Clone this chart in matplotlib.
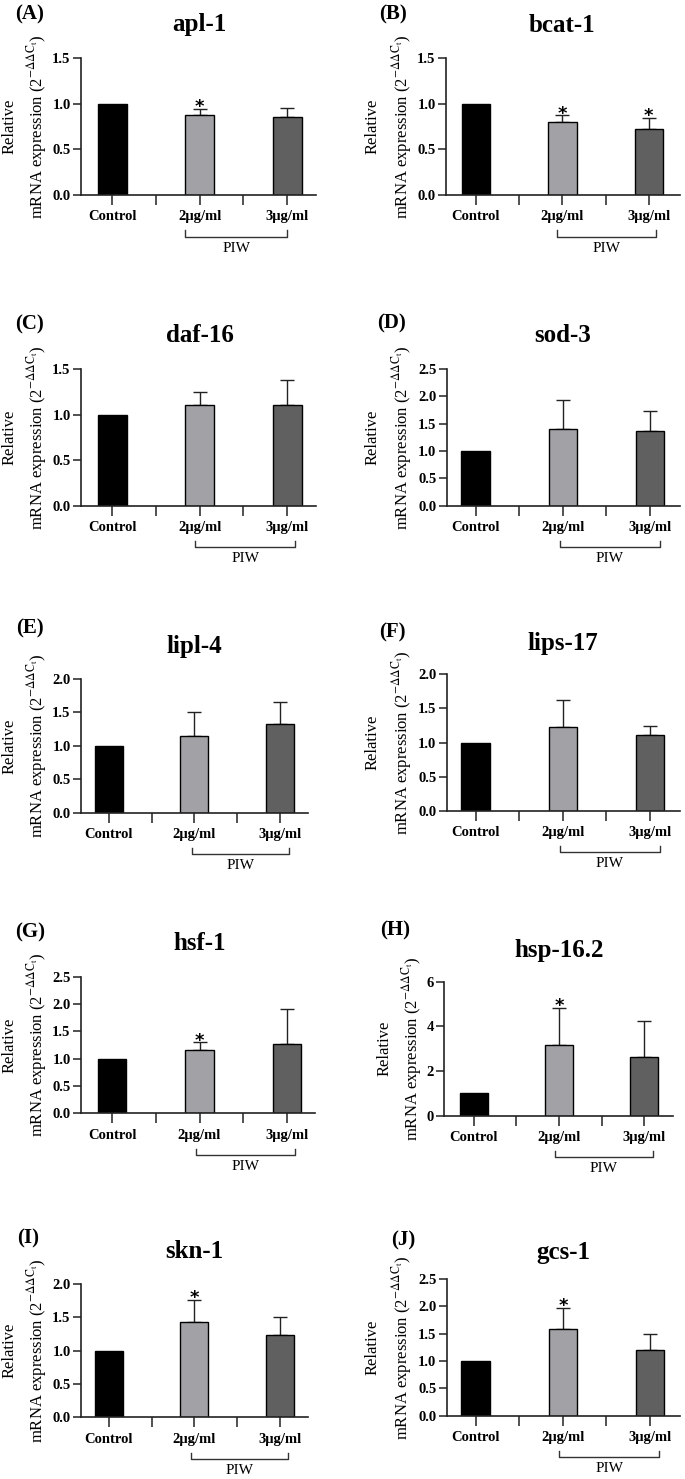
import matplotlib
matplotlib.use("Agg")
import matplotlib.pyplot as plt
import matplotlib.transforms as mtransforms

plt.rcParams['font.family'] = ['Liberation Serif', 'DejaVu Serif']
plt.rcParams['mathtext.fontset'] = 'stix'

# ---------------- data ----------------
genes = ['apl-1', 'bcat-1', 'daf-16', 'sod-3', 'lipl-4',
         'lips-17', 'hsf-1', 'hsp-16.2', 'skn-1', 'gcs-1']
panel_labels = ['(A)', '(B)', '(C)', '(D)', '(E)', '(F)', '(G)', '(H)', '(I)', '(J)']
groups = ['Control', '2\u03bcg/ml', '3\u03bcg/ml']

apl1_mean = [1.0, 0.88, 0.86];    apl1_err = [0, 0.065, 0.10]
bcat1_mean = [1.0, 0.80, 0.72];   bcat1_err = [0, 0.075, 0.13]
daf16_mean = [1.0, 1.10, 1.105];  daf16_err = [0, 0.15, 0.275]
sod3_mean = [1.0, 1.40, 1.36];    sod3_err = [0, 0.53, 0.37]
lipl4_mean = [1.0, 1.14, 1.32];   lipl4_err = [0, 0.37, 0.33]
lips17_mean = [1.0, 1.22, 1.105]; lips17_err = [0, 0.40, 0.14]
hsf1_mean = [1.0, 1.165, 1.26];   hsf1_err = [0, 0.135, 0.64]
hsp162_mean = [1.0, 3.15, 2.61];  hsp162_err = [0, 1.69, 1.64]
skn1_mean = [1.0, 1.435, 1.24];   skn1_err = [0, 0.33, 0.27]
gcs1_mean = [1.0, 1.58, 1.195];   gcs1_err = [0, 0.39, 0.30]

means = [apl1_mean, bcat1_mean, daf16_mean, sod3_mean, lipl4_mean,
         lips17_mean, hsf1_mean, hsp162_mean, skn1_mean, gcs1_mean]
errs = [apl1_err, bcat1_err, daf16_err, sod3_err, lipl4_err,
        lips17_err, hsf1_err, hsp162_err, skn1_err, gcs1_err]

# significance (group indices marked with *)
stars = [[1], [1, 2], [], [], [], [], [1], [1], [1], [1]]

ymax = [1.5, 1.5, 1.5, 2.5, 2.0, 2.0, 2.5, 6, 2.0, 2.5]
ystep = [0.5, 0.5, 0.5, 0.5, 0.5, 0.5, 0.5, 2, 0.5, 0.5]

# ---------------- layout (pixels) ----------------
W, H = 685, 1479
# left, right, top, bottom of axes; xlim; bracket x range; title y; panel label pos; ylabel line x
layout = [
    (81, 316, 58.3, 195, (-0.71, 4.66), (1.67, 4.00), 25, (30, 14), (10, 37)),
    (446, 680, 58.3, 195, (-0.69, 4.72), (1.87, 4.16), 25, (393, 14), (373, 402)),
    (81, 316, 369, 505.7, (-0.71, 4.66), (1.90, 4.18), 335, (30, 324), (10, 37)),
    (446.7, 680, 369, 505.7, (-0.67, 4.69), (1.93, 4.23), 335, (392, 323), (373, 402)),
    (81, 308, 679, 812.7, (-0.65, 4.66), (1.95, 4.22), 647, (30, 628), (10, 37)),
    (446.7, 680, 674.3, 810.7, (-0.67, 4.69), (1.93, 4.23), 643, (392, 632), (373, 402)),
    (81, 315, 976.7, 1113.3, (-0.71, 4.64), (1.91, 4.18), 943, (30, 932), (10, 37)),
    (444.3, 673, 981.7, 1115.7, (-0.69, 4.67), (1.91, 4.19), 950, (395, 930), (385, 412)),
    (81, 308, 1284, 1417.3, (-0.65, 4.66), (1.92, 4.19), 1252, (28, 1238), (10, 37)),
    (446.7, 680, 1279, 1415.7, (-0.67, 4.69), (1.92, 4.20), 1252, (403, 1240), (373, 402)),
]

colors = ['#000000', '#a2a2a6', '#606060']
xpos = [0, 2, 4]

fig = plt.figure(figsize=(W / 100, H / 100), dpi=100)

for i in range(10):
    L, R, T, B, xl, br, ty, plab, ylx = layout[i]
    ax = fig.add_axes([L / W, 1 - B / H, (R - L) / W, (B - T) / H])
    ax.bar(xpos, means[i], width=0.66, color=colors, edgecolor='black',
           linewidth=1.0, zorder=2)
    for j in range(3):
        if errs[i][j] > 0:
            ax.errorbar(xpos[j], means[i][j], yerr=[[0], [errs[i][j]]],
                        fmt='none', ecolor='#222222', elinewidth=1.0,
                        capsize=5, capthick=1.0, zorder=1)
    for j in stars[i]:
        ax.annotate('*', xy=(xpos[j], means[i][j] + errs[i][j]),
                    xytext=(0, -2.5), textcoords='offset points',
                    ha='center', va='baseline', fontsize=13,
                    fontweight='bold', family='DejaVu Sans',
                    annotation_clip=False)
    ax.set_xlim(*xl)
    ax.set_ylim(0, ymax[i])
    nt = int(round(ymax[i] / ystep[i]))
    yt = [k * ystep[i] for k in range(nt + 1)]
    ax.set_yticks(yt)
    if ystep[i] >= 1:
        ax.set_yticklabels([f'{v:.0f}' for v in yt])
    else:
        ax.set_yticklabels([f'{v:.1f}' for v in yt])
    ax.set_xticks([0, 1, 2, 3, 4])
    ax.set_xticklabels([groups[0], '', groups[1], '', groups[2]])
    for s in ['top', 'right']:
        ax.spines[s].set_visible(False)
    for s in ['left', 'bottom']:
        ax.spines[s].set_linewidth(1.2)
        ax.spines[s].set_color('#222222')
    ax.tick_params(axis='x', length=7, width=1.1, color='#222222', pad=4, labelsize=10.5)
    ax.tick_params(axis='y', length=6, width=1.1, color='#222222', pad=1.5, labelsize=10.5)
    for lab in ax.get_xticklabels() + ax.get_yticklabels():
        lab.set_fontweight('bold')

    # bracket + PIW (x in data units, y in figure inches)
    tr = mtransforms.blended_transform_factory(ax.transData, fig.dpi_scale_trans)
    yb = (H - B - 41.5) / 100
    ax.plot([br[0], br[0], br[1], br[1]], [yb + 0.06, yb, yb, yb + 0.06],
            transform=tr, color='#333333', lw=1.0, clip_on=False)
    ax.text((br[0] + br[1]) / 2, (H - B - 53) / 100, 'PIW', transform=tr,
            ha='center', va='center', fontsize=11, clip_on=False)

    # title and panel label
    ax.text(2, 1 - ty / H, genes[i], transform=mtransforms.blended_transform_factory(
        ax.transData, fig.transFigure), ha='center', va='center',
        fontsize=18, fontweight='bold')
    fig.text(plab[0] / W, 1 - plab[1] / H, panel_labels[i], ha='center', va='center',
             fontsize=15, fontweight='bold')
    yc = 1 - ((T + B) / 2) / H
    fig.text(ylx[0] / W, yc, 'Relative', rotation=90, ha='center', va='center', fontsize=12)
    fig.text(ylx[1] / W, yc, r'mRNA expression (2$^{-\Delta\Delta\mathrm{C}_\mathrm{t}}$)',
             rotation=90, ha='center', va='center', fontsize=12)

fig.savefig('out.png', dpi=100)
